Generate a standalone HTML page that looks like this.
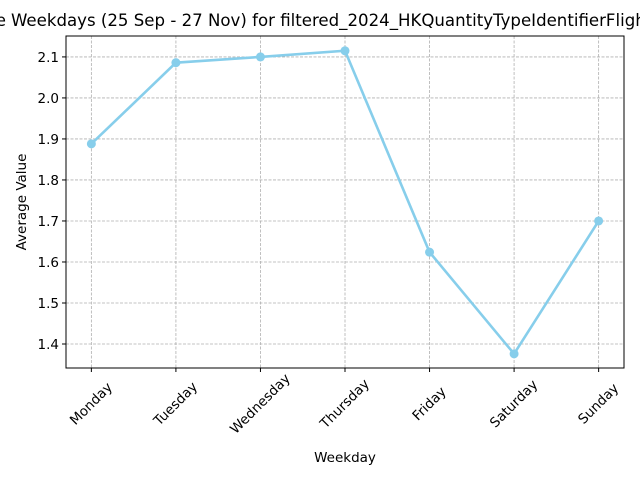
<!DOCTYPE html>
<html><head><meta charset="utf-8"><style>body{margin:0;background:#fff}svg{display:block;font-family:"DejaVu Sans","Liberation Sans",sans-serif}</style></head>
<body>
<svg id="c" width="640" height="480" viewBox="0 0 640 480"></svg>
<script>
const categories=["Monday","Tuesday","Wednesday","Thursday","Friday","Saturday","Sunday"];
const values=[1.888,2.086,2.100,2.115,1.624,1.376,1.700];
const yTicks=[1.4,1.5,1.6,1.7,1.8,1.9,2.0,2.1];
const L=66,R=624,T=36,B=368,ymin=1.3415,ymax=2.151;
const xs=i=>L+(i+0.3)/(categories.length-1+0.6)*(R-L);
const ys=v=>B-(v-ymin)/(ymax-ymin)*(B-T);
const svg=document.getElementById('c');const NS='http://www.w3.org/2000/svg';
function mk(t,a,txt){const e=document.createElementNS(NS,t);for(const k in a)e.setAttribute(k,a[k]);if(txt!=null)e.textContent=txt;svg.appendChild(e);return e;}
let e;
e=mk('text',{x:6,y:26,'text-anchor':'end','font-size':16.6,fill:'#000'},'Average Value for the');


e=mk('text',{x:11,y:26,'text-anchor':'start','font-size':16.6,fill:'#000'},'Weekdays (25 Sep - 27 Nov) for filtered_2024_HKQuantityTypeIdentifierFlightsClimbed');


yTicks.forEach(v=>{const y=ys(v);
e=mk('line',{x1:L,x2:R,y1:y,y2:y,stroke:'#b0b0b0','stroke-width':0.8,'stroke-dasharray':'3,1.5'});


mk('line',{x1:L-4,x2:L,y1:y,y2:y,stroke:'#000'});
e=mk('text',{x:L-7,y:y+5,'text-anchor':'end','font-size':13.5},v.toFixed(1));

});
categories.forEach((c,i)=>{const x=xs(i);
e=mk('line',{x1:x,x2:x,y1:T,y2:B,stroke:'#b0b0b0','stroke-width':0.8,'stroke-dasharray':'3,1.5'});


mk('line',{x1:x,x2:x,y1:B,y2:B+4,stroke:'#000'});
const cy=B+36;
e=mk('text',{x:x,y:cy,'text-anchor':'middle','dominant-baseline':'middle','font-size':13.5,transform:`rotate(-45 ${x} ${cy})`},c);

});
e=mk('rect',{x:L,y:T,width:R-L,height:B-T,fill:'none',stroke:'#000','stroke-width':1});


e=mk('polyline',{points:values.map((v,i)=>xs(i)+','+ys(v)).join(' '),fill:'none',stroke:'#87ceeb','stroke-width':2.6});


values.forEach((v,i)=>{e=mk('circle',{cx:xs(i),cy:ys(v),r:4.5,fill:'#87ceeb'});

});
e=mk('text',{x:345,y:462,'text-anchor':'middle','font-size':13.5},'Weekday');


e=mk('text',{x:26,y:202,'text-anchor':'middle','font-size':13.5,transform:'rotate(-90 26 202)'},'Average Value');


</script>
</body></html>
